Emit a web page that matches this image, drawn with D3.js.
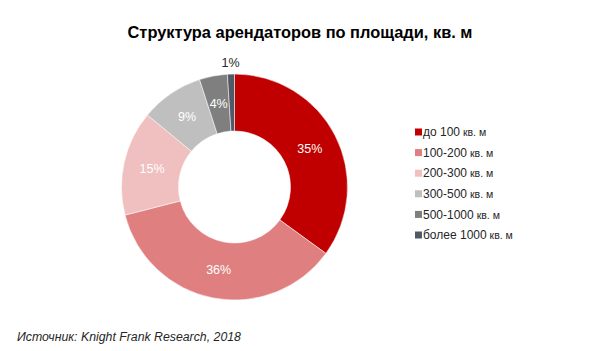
<!DOCTYPE html>
<html>
<head>
<meta charset="utf-8">
<script src="https://cdn.jsdelivr.net/npm/d3@7"></script>
<style>
  body { margin: 0; background: #fff; }
  text { font-family: "Liberation Sans", Arial, sans-serif; }
</style>
</head>
<body>
<div id="chart"></div>
<script>
// Chart data
const categories = ["до 100", "100-200", "200-300", "300-500", "500-1000", "более 1000"];
const shares = [35, 36, 15, 9, 4, 1];
const colors = ["#C00000", "#E07F7F", "#F0BFBF", "#BFBFBF", "#7F7F7F", "#4F5A66"];
const unit = "кв. м";
const title = "Структура арендаторов по площади, кв. м";
const source = "Источник: Knight Frank Research, 2018";

const width = 607, height = 351;
const cx = 234.5, cy = 187;
const outerR = 113, innerR = 56;

const svg = d3.select("#chart")
  .append("svg")
  .attr("width", width)
  .attr("height", height);

svg.append("text")
  .attr("x", 300)
  .attr("y", 38)
  .attr("text-anchor", "middle")
  .attr("font-size", 16.4)
  .attr("font-weight", "bold")
  .attr("fill", "#000")
  .text(title);

const data = categories.map((c, i) => ({ cat: c, value: shares[i], color: colors[i] }));

const pie = d3.pie().value(d => d.value).sort(null);
const arc = d3.arc().innerRadius(innerR).outerRadius(outerR);
const outerArc = d3.arc().innerRadius(outerR + 11).outerRadius(outerR + 11);

const g = svg.append("g").attr("transform", `translate(${cx},${cy})`);

const arcs = pie(data);

g.selectAll("path")
  .data(arcs)
  .enter()
  .append("path")
  .attr("d", arc)
  .attr("fill", d => d.data.color)
  .attr("stroke", "#fff")
  .attr("stroke-width", 0.5);

// slice labels; the tiny last slice gets its label outside
g.selectAll("text.lbl")
  .data(arcs)
  .enter()
  .append("text")
  .attr("class", "lbl")
  .attr("transform", d => {
    const p = d.data.value < 3 ? outerArc.centroid(d) : arc.centroid(d);
    return `translate(${p[0]},${p[1]})`;
  })
  .attr("text-anchor", "middle")
  .attr("dy", "0.35em")
  .attr("font-size", 12.5)
  .attr("fill", d => d.data.value < 3 ? "#262626" : "#fff")
  .text(d => d.data.value + "%");

// legend
const legend = svg.append("g").attr("transform", "translate(415,132)");
const rowH = 20.6;

const rows = legend.selectAll("g")
  .data(data)
  .enter()
  .append("g")
  .attr("transform", (d, i) => `translate(0,${i * rowH})`);

rows.append("rect")
  .attr("x", 0)
  .attr("y", -3.5)
  .attr("width", 7)
  .attr("height", 7)
  .attr("fill", d => d.color);

const lt = rows.append("text")
  .attr("x", 8)
  .attr("dy", "0.35em")
  .attr("font-size", 12)
  .attr("fill", "#262626");
lt.append("tspan").text(d => d.cat);
lt.append("tspan").attr("font-size", 10.5).text(" " + unit);

svg.append("text")
  .attr("x", 17)
  .attr("y", 341)
  .attr("font-size", 12.3)
  .attr("font-style", "italic")
  .attr("fill", "#262626")
  .text(source);
</script>
</body>
</html>
